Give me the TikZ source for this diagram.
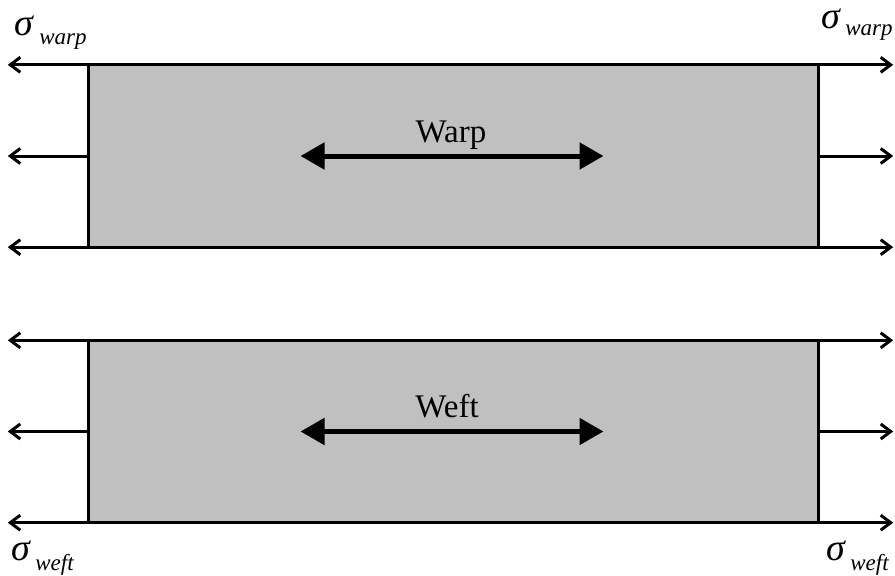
\documentclass[tikz,border=0pt]{standalone}
\usepackage{fontspec}
\setmainfont{Liberation Serif}
\usetikzlibrary{arrows.meta}
\definecolor{boxgray}{HTML}{C0C0C0}
\tikzset{
  specimen/.style={fill=boxgray, minimum width=729pt, minimum height=182pt, inner sep=0pt},
  edge/.style={line width=3pt},
  load/.style={line width=3pt, -{Straight Barb[length=10pt,width=15pt,line width=3pt]}},
  loadboth/.style={line width=3pt, {Straight Barb[length=10pt,width=15pt,line width=3pt]}-{Straight Barb[length=10pt,width=15pt,line width=3pt]}},
  fibre/.style={line width=5pt, {Triangle[length=24pt,width=26pt]}-{Triangle[length=24pt,width=26pt]}},
  tag/.style={font=\fontsize{33}{36}\selectfont, inner sep=0pt, anchor=base},
  stress/.style={font=\fontsize{38}{40}\selectfont\itshape, inner sep=0pt, anchor=base west},
  sub/.style={font=\fontsize{23}{24}\selectfont\itshape, inner sep=0pt, anchor=base west}
}
\begin{document}
\begin{tikzpicture}[x=1pt, y=-1pt]
  \useasboundingbox (0,0) rectangle (895,576);

  % the two strips
  \node [specimen] (warpbox) at (453.5,156) {};
  \node [specimen] (weftbox) at (453.5,431.5) {};

  \foreach \b in {warpbox, weftbox} {
    \draw [edge] (\b.north west) -- (\b.south west);
    \draw [edge] (\b.north east) -- (\b.south east);
    % loads on the edges
    \coordinate (\b-tl) at ([xshift=-81pt]\b.north west);
    \coordinate (\b-tr) at ([xshift=75pt]\b.north east);
    \coordinate (\b-bl) at ([xshift=-81pt]\b.south west);
    \coordinate (\b-br) at ([xshift=75pt]\b.south east);
    \coordinate (\b-ml) at ([xshift=-81pt]\b.west);
    \coordinate (\b-mr) at ([xshift=75pt]\b.east);
    \draw [loadboth] (\b-tl) -- (\b-tr);
    \draw [loadboth] (\b-bl) -- (\b-br);
    \draw [load] (\b.west) -- (\b-ml);
    \draw [load] (\b.east) -- (\b-mr);
    % fibre direction
    \coordinate (\b-fl) at ([xshift=-153pt]\b.center);
    \coordinate (\b-fr) at ([xshift=150pt]\b.center);
    \draw [fibre] (\b-fl) -- (\b-fr);
  }
  \node [tag] (warplabel) at (451,142) {Warp};
  \node [tag] (weftlabel) at (447,417) {Weft};

  % stresses
  \node [stress] (swarpl) at (14,35) {σ};
  \node [sub] at ([xshift=6pt,yshift=-9pt]swarpl.base east) {warp};
  \node [stress] (swarpr) at (821,28) {σ};
  \node [sub] at ([xshift=5pt,yshift=-7pt]swarpr.base east) {warp};
  \node [stress] (sweftl) at (11,560) {σ};
  \node [sub] at ([xshift=5pt,yshift=-10pt]sweftl.base east) {weft};
  \node [stress] (sweftr) at (826,560) {σ};
  \node [sub] at ([xshift=5pt,yshift=-10pt]sweftr.base east) {weft};
\end{tikzpicture}
\end{document}
